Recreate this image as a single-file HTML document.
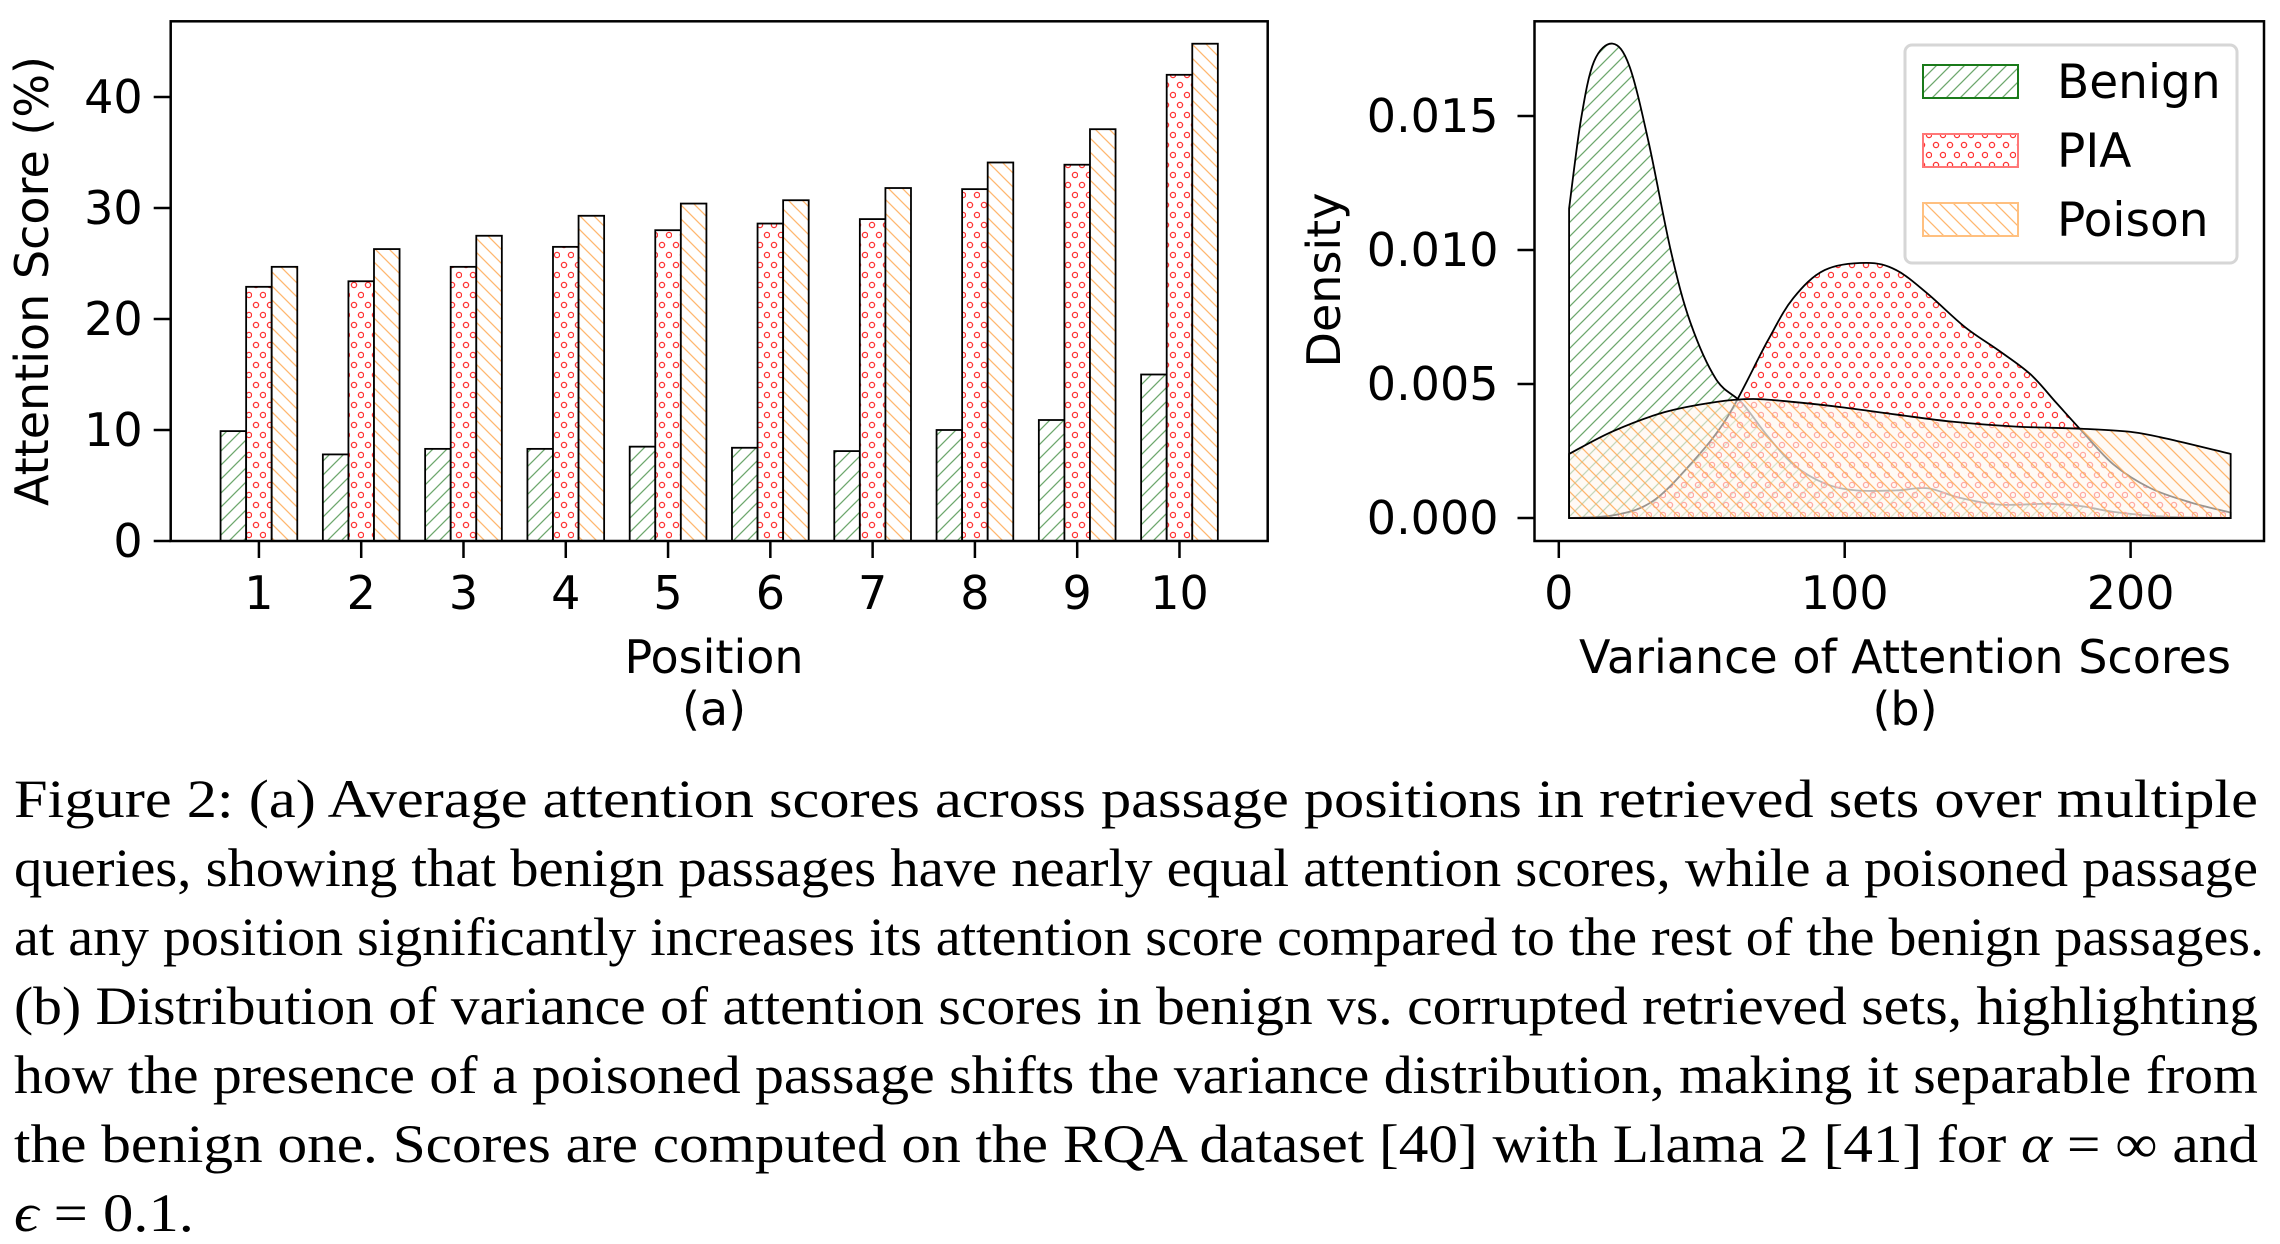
<!DOCTYPE html>
<html><head><meta charset="utf-8"><style>
html,body{margin:0;padding:0;background:#fff;}
svg{display:block;}
text{font-family:"DejaVu Sans","Liberation Sans",sans-serif;}
.cap{font-family:"Liberation Serif","Times New Roman",serif;font-size:54px;fill:#000;}
</style></head><body>
<svg id="fig" width="2280" height="1244" viewBox="0 0 2280 1244" xmlns="http://www.w3.org/2000/svg">
<defs>
<pattern id="hB" patternUnits="userSpaceOnUse" width="14" height="14"><path d="M-2,16 L16,-2 M-9,9 L9,-9 M5,23 L23,5" stroke="#3c8a3c" stroke-width="1.3" opacity="0.75"/></pattern>
<pattern id="hP" patternUnits="userSpaceOnUse" width="14" height="20"><circle cx="4" cy="5" r="2.6" fill="none" stroke="#ff3333" stroke-width="1.3"/><circle cx="11" cy="15" r="2.6" fill="none" stroke="#ff3333" stroke-width="1.3"/></pattern>
<pattern id="hO" patternUnits="userSpaceOnUse" width="14" height="14"><path d="M-2,-2 L16,16 M-9,5 L9,23 M5,-9 L23,9" stroke="#ffaa55" stroke-width="1.3" opacity="0.85"/></pattern>
</defs>
<g id="chartA"></g>
<g id="chartB"></g>
<g>
<text class="cap" x="14" y="817" textLength="2244" lengthAdjust="spacingAndGlyphs">Figure 2: (a) Average attention scores across passage positions in retrieved sets over multiple</text>
<text class="cap" x="14" y="886" textLength="2244" lengthAdjust="spacingAndGlyphs">queries, showing that benign passages have nearly equal attention scores, while a poisoned passage</text>
<text class="cap" x="14" y="955" textLength="2250" lengthAdjust="spacingAndGlyphs">at any position significantly increases its attention score compared to the rest of the benign passages.</text>
<text class="cap" x="14" y="1024" textLength="2244" lengthAdjust="spacingAndGlyphs">(b) Distribution of variance of attention scores in benign vs. corrupted retrieved sets, highlighting</text>
<text class="cap" x="14" y="1093" textLength="2244" lengthAdjust="spacingAndGlyphs">how the presence of a poisoned passage shifts the variance distribution, making it separable from</text>
<text class="cap" x="14" y="1162" textLength="2244" lengthAdjust="spacingAndGlyphs">the benign one. Scores are computed on the RQA dataset [40] with Llama 2 [41] for <tspan font-style="italic">α</tspan> = ∞ and</text>
<text class="cap" x="14" y="1231" textLength="180" lengthAdjust="spacingAndGlyphs"><tspan font-style="italic">ϵ</tspan> = 0.1.</text>
</g>
</svg>
<script>
// ---- Chart (a) data ----
const positions = [1,2,3,4,5,6,7,8,9,10];
const benignScores = [9.9,7.8,8.3,8.3,8.5,8.4,8.1,10.0,10.9,15.0];
const piaScores = [22.9,23.4,24.7,26.5,28.0,28.6,29.0,31.7,33.9,42.0];
const poisonScores = [24.7,26.3,27.5,29.3,30.4,30.7,31.8,34.1,37.1,44.8];
const yTicksA = [0,10,20,30,40];
// ---- Chart (b) data ----
const benignX = [3.6,7.8,12.3,18.8,24.7,31.4,39.2,46,55,64,73,82,93,104,118,129,140,154,171.5,183,194,212,235];
const benignY = [0.01155,0.0149,0.01703,0.0177,0.01686,0.01403,0.00996,0.0073,0.00518,0.0043,0.00306,0.002,0.00129,0.00103,0.00103,0.00111,0.00076,0.0005,0.00053,0.00044,0.00023,0.00005,0];
const piaX = [3.6,19,32.5,46,59,73,82,93,107.6,118,129,142,154,165,174,183,194,207,221,235];
const piaY = [0,0.0001,0.0006,0.002,0.00377,0.0066,0.0082,0.00925,0.00952,0.00925,0.00837,0.00713,0.00624,0.00536,0.0043,0.00324,0.002,0.00111,0.00058,0.0002];
const poisonX = [3.6,19,37,55,68,82,100,118,138,160,183,201,216,235];
const poisonY = [0.00239,0.00324,0.00395,0.00433,0.00444,0.00433,0.00412,0.00386,0.00359,0.00341,0.00333,0.0032,0.00288,0.00239];
const yTicksB = [0,0.005,0.010,0.015];
const yTickLabelsB = ["0.000","0.005","0.010","0.015"];
const xTicksB = [0,100,200];

const NS="http://www.w3.org/2000/svg";
const FS=46;
function mk(parent,tag,attrs,txt){const e=document.createElementNS(NS,tag);for(const k in attrs)e.setAttribute(k,attrs[k]);if(txt!==undefined)e.textContent=txt;parent.appendChild(e);return e;}

// Chart A
const A=document.getElementById('chartA');
const aL=170.7,aR=1267.7,aT=21.3,aB=541;
const xA=v=>aL+(v-0.1375)*(aR-aL)/10.725;
const yA=v=>aB-v*11.1;
const bw=0.25;
const series=[[benignScores,'hB','benign'],[piaScores,'hP','pia'],[poisonScores,'hO','poison']];
series.forEach((s,si)=>{
  s[0].forEach((v,i)=>{
    const x0=xA(positions[i]+(si-1)*bw-bw/2), x1=xA(positions[i]+(si-1)*bw+bw/2);
    const g=mk(A,'g',{});
    
    
    mk(g,'rect',{x:x0,y:yA(v),width:x1-x0,height:aB-yA(v),fill:'#fff'});
    mk(g,'rect',{x:x0,y:yA(v),width:x1-x0,height:aB-yA(v),fill:'url(#'+s[1]+')',stroke:'#000','stroke-width':1.8});
  });
});
const frameA=mk(A,'rect',{x:aL,y:aT,width:aR-aL,height:aB-aT,fill:'none',stroke:'#000','stroke-width':2.5});


yTicksA.forEach(t=>{
  mk(A,'line',{x1:aL-17,x2:aL,y1:yA(t),y2:yA(t),stroke:'#000','stroke-width':2.5});
  const tl=mk(A,'text',{x:aL-28,y:yA(t)+16,'font-size':FS,'text-anchor':'end'},String(t));
  
  
});
positions.forEach(p=>{
  mk(A,'line',{x1:xA(p),x2:xA(p),y1:aB,y2:aB+17,stroke:'#000','stroke-width':2.5});
  const tl=mk(A,'text',{x:xA(p),y:609,'font-size':FS,'text-anchor':'middle'},String(p));
  
  
});
let t;
t=mk(A,'text',{x:0,y:0,'font-size':FS,'text-anchor':'middle',transform:'translate(48,281) rotate(-90)'},'Attention Score (%)');

t=mk(A,'text',{x:714,y:673,'font-size':FS,'text-anchor':'middle'},'Position');

t=mk(A,'text',{x:714,y:725,'font-size':FS,'text-anchor':'middle'},'(a)');


// Chart B
const B=document.getElementById('chartB');
const bL=1534.5,bR=2264,bT=21.3,bB=541;
const xB=v=>1558.8+v*2.859;
const yB=v=>518-v*(402/0.015);
function smooth(xs,ys){
  const p=xs.map((x,i)=>[xB(x),yB(ys[i])]);
  let d='M'+p[0][0]+','+p[0][1];
  for(let i=0;i<p.length-1;i++){
    const p0=p[i-1]||p[i],p1=p[i],p2=p[i+1],p3=p[i+2]||p[i+1];
    const c1=[p1[0]+(p2[0]-p0[0])/6,p1[1]+(p2[1]-p0[1])/6];
    const c2=[p2[0]-(p3[0]-p1[0])/6,p2[1]-(p3[1]-p1[1])/6];
    d+=' C'+c1[0]+','+c1[1]+' '+c2[0]+','+c2[1]+' '+p2[0]+','+p2[1];
  }
  return d;
}
function area(xs,ys,pat,bg,bgOp,name){
  const top=smooth(xs,ys);
  const d=top+' L'+xB(xs[xs.length-1])+','+yB(0)+' L'+xB(xs[0])+','+yB(0)+' Z';
  const g=mk(B,'g',{});
  
  
  mk(g,'path',{d:d,fill:bg,'fill-opacity':bgOp});
  mk(g,'path',{d:d,fill:'url(#'+pat+')',stroke:'#000','stroke-width':1.8});
}
area(benignX,benignY,'hB','#fff',0,'density-benign');
area(piaX,piaY,'hP','#fff',0.35,'density-pia');
area(poisonX,poisonY,'hO','#fff6ee',0.6,'density-poison');
const frameB=mk(B,'rect',{x:bL,y:bT,width:bR-bL,height:bB-bT,fill:'none',stroke:'#000','stroke-width':2.5});


yTicksB.forEach((v,i)=>{
  mk(B,'line',{x1:bL-17,x2:bL,y1:yB(v),y2:yB(v),stroke:'#000','stroke-width':2.5});
  const tl=mk(B,'text',{x:bL-36,y:yB(v)+16,'font-size':FS,'text-anchor':'end'},yTickLabelsB[i]);
  
  
});
xTicksB.forEach(v=>{
  mk(B,'line',{x1:xB(v),x2:xB(v),y1:bB,y2:bB+17,stroke:'#000','stroke-width':2.5});
  const tl=mk(B,'text',{x:xB(v),y:609,'font-size':FS,'text-anchor':'middle'},String(v));
  
  
});
t=mk(B,'text',{x:0,y:0,'font-size':FS,'text-anchor':'middle',transform:'translate(1340,280) rotate(-90)'},'Density');

t=mk(B,'text',{x:1905,y:673,'font-size':FS,'text-anchor':'middle'},'Variance of Attention Scores');

t=mk(B,'text',{x:1905,y:725,'font-size':FS,'text-anchor':'middle'},'(b)');


// legend
const lg=mk(B,'g',{});


mk(lg,'rect',{x:1905,y:45,width:332,height:218,rx:7,fill:'#fff','fill-opacity':0.85,stroke:'#d6d6d6','stroke-width':3});
const legItems=[['Benign','hB','#1a7a1a',65],['PIA','hP','#ff7777',134],['Poison','hO','#ffc080',203]];
legItems.forEach(li=>{
  const g=mk(lg,'g',{});
  
  
  mk(g,'rect',{x:1923,y:li[3],width:95,height:33,fill:'url(#'+li[1]+')',stroke:li[2],'stroke-width':2});
  mk(g,'text',{x:2057,y:li[3]+33,'font-size':47},li[0]);
});
</script>
</body></html>
